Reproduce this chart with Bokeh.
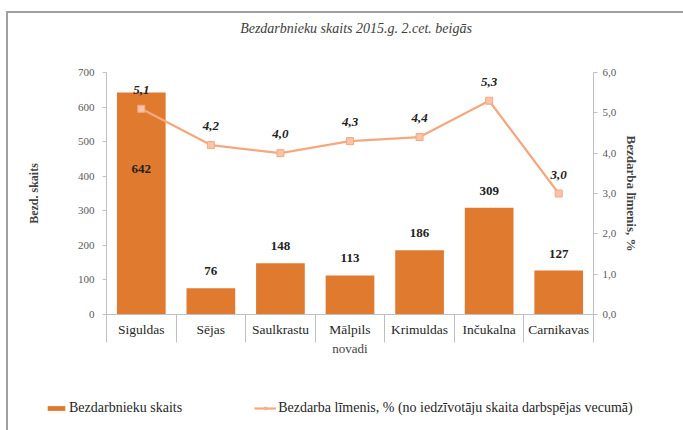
import math
from bokeh.plotting import figure
from bokeh.layouts import column
from bokeh.models import Range1d, LinearAxis, FixedTicker, ColumnDataSource, Legend, LegendItem, Label
from bokeh.core.properties import value
from bokeh.embed import file_html
from bokeh.resources import INLINE

# --- data -------------------------------------------------------------
categories = ["Siguldas", "Sējas", "Saulkrastu", "Mālpils", "Krimuldas", "Inčukalna", "Carnikavas"]
unemployed = [642, 76, 148, 113, 186, 309, 127]          # Bezdarbnieku skaits
rate = [5.1, 4.2, 4.0, 4.3, 4.4, 5.3, 3.0]               # Bezdarba līmenis, %
count_ticks = [0, 100, 200, 300, 400, 500, 600, 700]
rate_ticks = [0, 1, 2, 3, 4, 5, 6]
rate_tick_labels = ["0,0", "1,0", "2,0", "3,0", "4,0", "5,0", "6,0"]
title_text = "Bezdarbnieku skaits 2015.g. 2.cet. beigās"
bar_name = "Bezdarbnieku skaits"
line_name = "Bezdarba līmenis, % (no iedzīvotāju skaita darbspējas vecumā)"

FONT = "Liberation Serif"
BAR = "#E07A2F"
LINE = "#F4A880"
MARK = "#F8C3A6"
AXIS = "#BFBFBF"
TICK_TXT = "#595959"
W = 675


def strip(height):
    """Plain full-bleed figure used for the heading and the key rows."""
    f = figure(width=W, height=height, output_backend="svg", toolbar_location=None,
               x_range=Range1d(0, W), y_range=Range1d(0, height),
               x_axis_location=None, y_axis_location=None, frame_align=False,
               min_border_left=0, min_border_right=0, min_border_top=0, min_border_bottom=0)
    f.grid.grid_line_color = None
    f.outline_line_color = None
    return f


# --- heading ----------------------------------------------------------
head = strip(30)
head.add_layout(Label(x=W / 2 + 10, y=15, text=title_text, text_font=FONT,
                      text_font_style="italic", text_font_size="14px", text_color="#404040",
                      text_align="center", text_baseline="middle"))

# --- main chart -------------------------------------------------------
xc = [i + 0.5 for i in range(len(categories))]
bounds = [float(i) for i in range(len(categories) + 1)]

src = ColumnDataSource(dict(
    x=xc, cat=categories, n=unemployed, r=rate,
    n_txt=[str(v) for v in unemployed],
    r_txt=[f"{v:.1f}".replace(".", ",") for v in rate],
    # tall bar carries its value inside, the rest above the bar top
    n_off=[76 if v > 500 else -17 for v in unemployed],
))

p = figure(width=W, height=332, output_backend="svg", toolbar_location=None,
           x_range=Range1d(0, len(categories)), y_range=Range1d(0, 700), frame_align=False,
           min_border_left=98, min_border_right=90, min_border_top=29, min_border_bottom=61)
p.outline_line_color = None
p.background_fill_color = "white"
p.border_fill_color = "white"
p.xgrid.grid_line_color = None
p.ygrid.grid_line_color = None

p.extra_y_ranges = {"pct": Range1d(0, 6)}

bars = p.vbar(x="x", top="n", width=0.7, source=src, fill_color=BAR, line_color=None)
p.text(x="x", y="n", text="n_txt", y_offset="n_off", source=src,
       text_font=value(FONT), text_font_style="bold", text_font_size="13px",
       text_align="center", text_baseline="middle", text_color="#222222")

p.line(x="x", y="r", source=src, y_range_name="pct", line_color=LINE, line_width=2.2)
p.scatter(x="x", y="r", source=src, y_range_name="pct", marker="square", size=7,
          fill_color=MARK, line_color=LINE, line_width=1)
p.text(x="x", y="r", text="r_txt", source=src, y_range_name="pct", y_offset=-19,
       text_font=value(FONT), text_font_style="bold italic", text_font_size="13px",
       text_align="center", text_baseline="middle", text_color="#222222")

# x axis: names at centres, long separators at category boundaries
xa = p.xaxis[0]
xa.ticker = FixedTicker(ticks=xc, minor_ticks=bounds)
xa.major_label_overrides = {x: c for x, c in zip(xc, categories)}
xa.major_tick_line_color = None
xa.minor_tick_in = 0
xa.minor_tick_out = 28
xa.minor_tick_line_color = AXIS
xa.axis_line_color = AXIS
xa.major_label_standoff = -21
xa.major_label_text_font = FONT
xa.major_label_text_font_size = "13.5px"
xa.major_label_text_color = "#262626"
xa.axis_label = "novadi"
xa.axis_label_text_font = FONT
xa.axis_label_text_font_style = "normal"
xa.axis_label_text_font_size = "13px"
xa.axis_label_standoff = 1

# left axis
ya = p.yaxis[0]
ya.ticker = FixedTicker(ticks=count_ticks)
ya.minor_tick_line_color = None
ya.major_tick_in = 0
ya.major_tick_out = 4
ya.major_tick_line_color = AXIS
ya.axis_line_color = AXIS
ya.major_label_standoff = 8
ya.major_label_text_font = FONT
ya.major_label_text_font_size = "11px"
ya.major_label_text_color = TICK_TXT
ya.axis_label = "Bezd. skaits"
ya.axis_label_text_font = FONT
ya.axis_label_text_font_style = "bold"
ya.axis_label_text_font_size = "12px"
ya.axis_label_standoff = 34

# right axis
ra = LinearAxis(y_range_name="pct", ticker=FixedTicker(ticks=rate_ticks),
                major_label_overrides={t: s for t, s in zip(rate_ticks, rate_tick_labels)})
ra.minor_tick_line_color = None
ra.major_tick_in = 0
ra.major_tick_out = 4
ra.major_tick_line_color = AXIS
ra.axis_line_color = AXIS
ra.major_label_text_font = FONT
ra.major_label_text_font_size = "11px"
ra.major_label_text_color = TICK_TXT
ra.axis_label = "Bezdarba līmenis, %"
ra.axis_label_text_font = FONT
ra.axis_label_text_font_style = "bold"
ra.axis_label_text_font_size = "13px"
ra.axis_label_standoff = 5
p.add_layout(ra, "right")

# --- key row ----------------------------------------------------------
lg = strip(55)
key_src = ColumnDataSource(dict(x=[math.nan], y=[math.nan]))
kb = lg.vbar(x="x", top="y", width=1, source=key_src, fill_color=BAR, line_color=None)
kl = lg.line(x="x", y="y", source=key_src, line_color=LINE, line_width=2.2)
km = lg.scatter(x="x", y="y", source=key_src, marker="square", size=7,
                fill_color=MARK, line_color=LINE, line_width=1)
legend = Legend(items=[LegendItem(label=bar_name, renderers=[kb]),
                       LegendItem(label=line_name, renderers=[kl, km])],
                orientation="horizontal", location=(37, 14),
                glyph_width=22, glyph_height=6, spacing=72, padding=0, margin=0,
                label_standoff=2, label_text_font=FONT, label_text_font_size="14px",
                label_text_color="#262626", border_line_color=None, background_fill_alpha=0)
lg.add_layout(legend, "center")

page = column(head, p, lg, spacing=0)
page.styles = {"margin-top": "11px", "margin-left": "6px",
               "border-top": "2px solid #A0A0A0", "border-left": "2px solid #A0A0A0"}

open("out.html", "w").write(file_html(page, INLINE))
